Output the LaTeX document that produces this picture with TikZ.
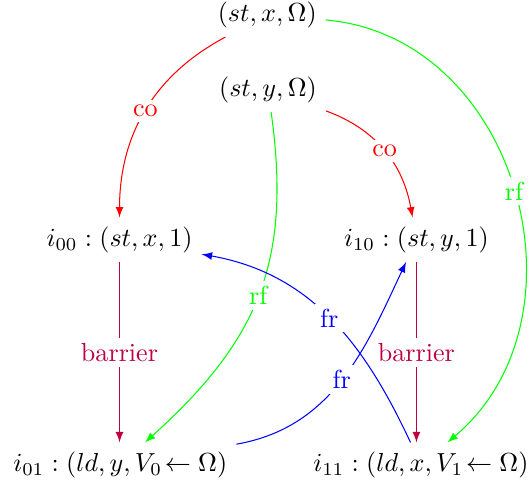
\documentclass[tikz,border=0pt]{standalone}
\usepackage{amsmath,amssymb}
\begin{document}
\begin{tikzpicture}[x=1cm,y=1cm,>=latex,
    lbl/.style={fill=white, inner sep=2pt},
    coedge/.style={->, red},
    rfedge/.style={->, green},
    fredge/.style={->, blue},
    baredge/.style={->, purple}]
  \useasboundingbox (0,0) rectangle (7.14,6.56);
  \node (sx) at (3.60,6.36) {$(st, x, \Omega)$};
  \node (sy) at (3.61,5.35) {$(st, y, \Omega)$};
  \node (i00) at (1.61,3.33) {$i_{00} : (st, x, 1)$};
  \node (i10) at (5.61,3.33) {$i_{10} : (st, y, 1)$};
  \node (i01) at (1.62,0.30) {$i_{01} : (ld, y, V_0\!\leftarrow \Omega)$};
  \node (i11) at (5.67,0.30) {$i_{11} : (ld, x, V_1\!\leftarrow \Omega)$};
  \draw[coedge] (sx) to[out=208, in=90] node[lbl, text=red] {co} (i00);
  \draw[coedge] (sy) to[out=-20, in=100] node[lbl, text=red] {co} (i10);
  \draw[rfedge] (sx) to[out=-5, in=40, looseness=1.12] node[lbl, text=green] {rf} (i11);
  \draw[rfedge] (sy) to[out=-82, in=42, looseness=1.1] node[lbl, text=green] {rf} (i01);
  \draw[baredge] (i00) -- node[lbl, text=purple] {barrier} (i01.north -| i00);
  \draw[baredge] (i10) -- node[lbl, text=purple] {barrier} (i11.north -| i10);
  \draw[fredge] (i11) to[out=115, in=-10] node[lbl, text=blue] {fr} (i00);
  \draw[fredge] (i01) to[out=10, in=245] node[lbl, text=blue] {fr} (i10);
\end{tikzpicture}
\end{document}
